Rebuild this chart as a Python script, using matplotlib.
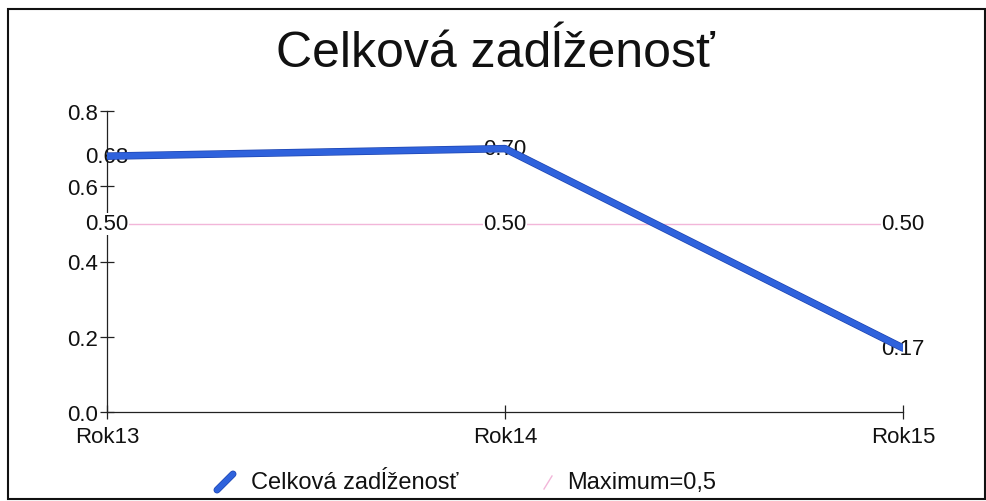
import matplotlib
matplotlib.use("Agg")
import matplotlib.pyplot as plt
from matplotlib.lines import Line2D
from matplotlib.patches import Rectangle
import matplotlib.patheffects as pe

plt.rcParams['font.family'] = ['Liberation Sans', 'DejaVu Sans']

categories = ["Rok13", "Rok14", "Rok15"]
zadlzenost = [0.68, 0.70, 0.17]
maximum = [0.50, 0.50, 0.50]
yticks = [0.0, 0.2, 0.4, 0.6, 0.8]
title = "Celková zadĺženosť"
series_names = ["Celková zadĺženosť", "Maximum=0,5"]

blue = "#2f62dc"
blue_edge = "#1d44b0"
pink = "#f2b6d9"

FS = 16

fig = plt.figure(figsize=(9.87, 5.02), dpi=100)
ax = fig.add_axes([107/987, 1-413/502, (903-107)/987, (413-112)/502])

x = list(range(len(categories)))
ax.plot(x, maximum, color=pink, lw=1.0, zorder=1)
ax.plot(x, zadlzenost, color=blue, lw=4.4, solid_capstyle='round', solid_joinstyle='round', zorder=5,
        path_effects=[pe.Stroke(linewidth=5.4, foreground=blue_edge), pe.Normal()])

for xi, v in zip(x, zadlzenost):
    ax.text(xi, v, f"{v:.2f}", ha='center', va='center', fontsize=FS, color='#111111', zorder=3)
for xi, v in zip(x, maximum):
    ax.text(xi, v, f"{v:.2f}", ha='center', va='center', fontsize=FS, color='#111111', zorder=3,
            bbox=dict(facecolor='white', edgecolor='none', pad=0.5))

ax.set_xlim(0, 2)
ax.set_ylim(0, 0.8)
ax.set_xticks(x)
ax.set_xticklabels(categories)
ax.set_yticks(yticks)
ax.set_yticklabels([f"{t:.1f}" for t in yticks])
for s in ['top', 'right']:
    ax.spines[s].set_visible(False)
for s in ['left', 'bottom']:
    ax.spines[s].set_linewidth(0.9)
    ax.spines[s].set_color('#222222')
ax.tick_params(axis='both', direction='inout', length=9.5, width=0.9, colors='#222222',
               labelsize=FS, labelcolor='#111111')
ax.tick_params(axis='y', pad=2)
ax.tick_params(axis='x', pad=5)
ax.set_facecolor('none')

fig.text(495/987, 1-54/502, title, ha='center', va='center', fontsize=36, color='#111111')

# legend
fig.add_artist(Line2D([217/987, 233/987], [1-491/502, 1-475/502], color=blue, lw=4,
                      solid_capstyle='round', transform=fig.transFigure,
                      path_effects=[pe.Stroke(linewidth=5, foreground=blue_edge), pe.Normal()]))
fig.text(251/987, 1-483/502, series_names[0], ha='left', va='center', fontsize=17, color='#111111')
fig.add_artist(Line2D([544/987, 552/987], [1-490/502, 1-477/502], color=pink, lw=1.0,
                      transform=fig.transFigure))
fig.text(567/987, 1-483/502, series_names[1], ha='left', va='center', fontsize=17, color='#111111')

# outer frame
fig.add_artist(Rectangle((8/987, 1-500/502), (985-8)/987, (500-10)/502, transform=fig.transFigure,
                         fill=False, edgecolor='#111111', lw=1.5))

fig.savefig("out.png", dpi=100, facecolor='white')
